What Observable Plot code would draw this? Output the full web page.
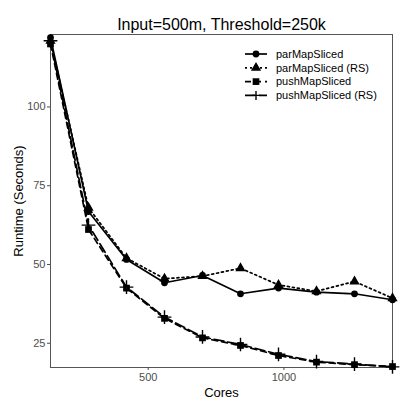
<!DOCTYPE html>
<html><head><meta charset="utf-8">
<script src="https://cdn.jsdelivr.net/npm/d3@7"></script>
<script src="https://cdn.jsdelivr.net/npm/@observablehq/plot@0.6"></script>
<style>
body{margin:0;background:#fff;font-family:"Liberation Sans",Arial,sans-serif;}
#wrap{position:relative;width:400px;height:400px;}
#legend{position:absolute;left:240px;top:44px;}
</style></head><body><div id="wrap"></div>
<script>
const title = "Input=500m, Threshold=250k";
const xLabel = "Cores";
const yLabel = "Runtime (Seconds)";
const cores = [140, 280, 420, 560, 700, 840, 980, 1120, 1260, 1400];
const seriesNames = ["parMapSliced", "parMapSliced (RS)", "pushMapSliced", "pushMapSliced (RS)"];
const parMapSliced    = [122, 66.8, 51.6, 44.2, 46.5, 40.7, 42.5, 41.2, 40.7, 38.8];
const parMapSlicedRS  = [121, 68.0, 52.0, 45.5, 46.3, 48.8, 43.5, 41.5, 44.6, 39.3];
const pushMapSliced   = [120, 61.1, 42.5, 32.9, 26.7, 24.3, 21.1, 19.0, 18.2, 17.6];
const pushMapSlicedRS = [121, 62.5, 42.8, 33.3, 27.0, 24.6, 21.5, 19.2, 18.4, 17.5];
const xTicks = [500, 1000];
const yTicks = [25, 50, 75, 100];

const values = [parMapSliced, parMapSlicedRS, pushMapSliced, pushMapSlicedRS];
const dashes = [null, "2,3", "6,4", "10,4"];
const symbols = ["circle", "triangle", "square", "plus"];
const rows = seriesNames.flatMap((s, i) => cores.map((c, j) => ({series: s, cores: c, runtime: values[i][j]})));

const marks = [Plot.frame({stroke: "#555", strokeWidth: 1})];
seriesNames.forEach((s, i) => {
  const d = rows.filter(r => r.series === s);
  marks.push(Plot.line(d, {x: "cores", y: "runtime", stroke: "black", strokeWidth: 1.7, strokeDasharray: dashes[i]}));
});
seriesNames.forEach((s, i) => {
  const d = rows.filter(r => r.series === s);
  if (symbols[i] === "plus")
    marks.push(Plot.dot(d, {x: "cores", y: "runtime", symbol: "plus", r: 4.5, stroke: "black", fill: "none", strokeWidth: 1.4}));
  else
    marks.push(Plot.dot(d, {x: "cores", y: "runtime", symbol: symbols[i], r: symbols[i] === "circle" ? 3.4 : 3.8, fill: "black", stroke: "none"}));
});
marks.push(
  Plot.axisX({ticks: xTicks, tickFormat: d => String(d), tickSize: 3, tickPadding: 3, fontSize: 11, fill: "#4d4d4d", stroke: "#4d4d4d", label: null}),
  Plot.axisY({ticks: yTicks, tickFormat: d => String(d), tickSize: 3, tickPadding: 2, fontSize: 11, fill: "#4d4d4d", stroke: "#4d4d4d", label: null}),
  Plot.text([title], {frameAnchor: "top", textAnchor: "middle", lineAnchor: "bottom", dy: -5, fontSize: 16, fill: "black"}),
  Plot.text([xLabel], {frameAnchor: "bottom", textAnchor: "middle", lineAnchor: "bottom", dy: 29, fontSize: 13, fill: "black"}),
  Plot.text([yLabel], {frameAnchor: "left", textAnchor: "middle", lineAnchor: "middle", rotate: -90, dx: -32, fontSize: 13, fill: "black"})
);

const chart = Plot.plot({
  width: 400, height: 400,
  marginLeft: 50, marginRight: 8, marginTop: 34, marginBottom: 33,
  style: {fontFamily: "'Liberation Sans', Arial, sans-serif", background: "white"},
  x: {domain: [140, 1400]},
  y: {domain: [17.3, 123]},
  marks
});
const wrap = document.getElementById("wrap");
wrap.appendChild(chart);

// legend
const lg = d3.select(wrap).append("svg").attr("id", "legend").attr("width", 158).attr("height", 62)
  .style("font-family", "'Liberation Sans', Arial, sans-serif");
const symMap = {circle: d3.symbolCircle, triangle: d3.symbolTriangle, square: d3.symbolSquare};
seriesNames.forEach((s, i) => {
  const y = 10 + i * 13.8;
  const g = lg.append("g");
  g.append("line").attr("x1", 5).attr("x2", 27).attr("y1", y).attr("y2", y)
    .attr("stroke", "black").attr("stroke-width", 1.7).attr("stroke-dasharray", dashes[i]);
  const path = symbols[i] === "plus"
    ? "M-4.5,0H4.5M0,-4.5V4.5"
    : d3.symbol(symMap[symbols[i]], symbols[i] === "circle" ? 36 : 45)();
  g.append("path").attr("d", path).attr("transform", `translate(16,${y})`)
    .attr("fill", symbols[i] === "plus" ? "none" : "black")
    .attr("stroke", symbols[i] === "plus" ? "black" : "none").attr("stroke-width", 1.4);
  g.append("text").attr("x", 36).attr("y", y).attr("dy", "0.35em").attr("font-size", 11).text(s);
});
</script></body></html>
